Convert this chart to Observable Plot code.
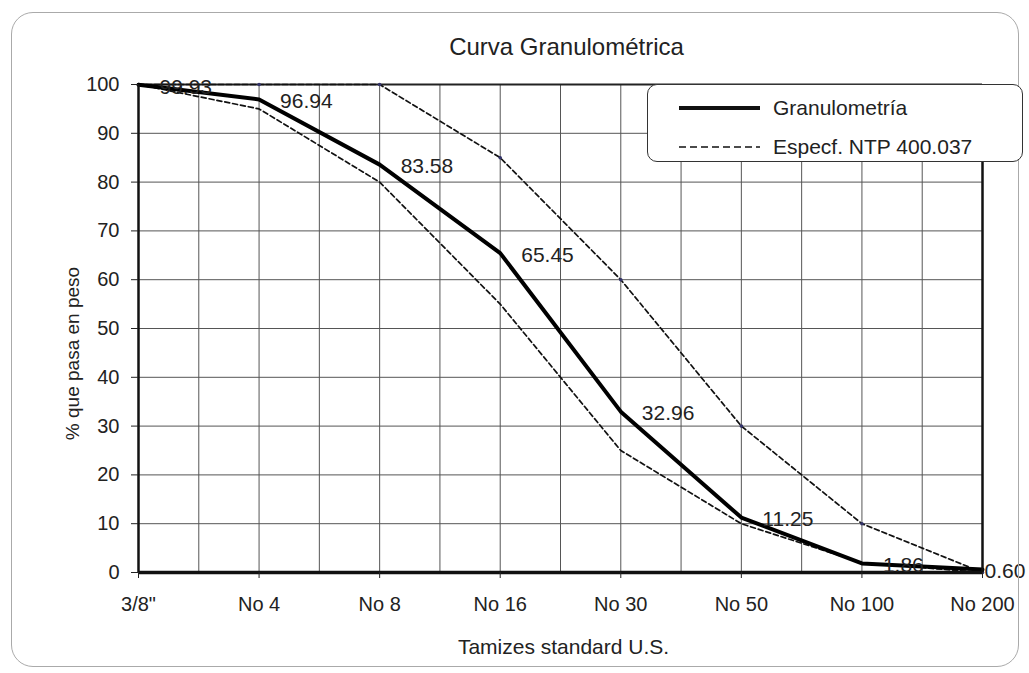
<!DOCTYPE html>
<html>
<head>
<meta charset="utf-8">
<script src="https://cdn.jsdelivr.net/npm/d3@7"></script>
<script src="https://cdn.jsdelivr.net/npm/@observablehq/plot@0.6"></script>
<style>
  html, body { margin: 0; padding: 0; background: #fff; }
  #wrap { position: relative; width: 1029px; height: 673px; overflow: hidden; }
  #frame { position: absolute; left: 11px; top: 12px; width: 1008px; height: 655px;
           border: 1.5px solid #aaa; border-radius: 22px; pointer-events: none; box-sizing: border-box; }
  #legend { position: absolute; left: 647px; top: 84px; width: 376px; height: 78px; box-sizing: border-box;
            border: 1.6px solid #333; border-radius: 10px; background: #fff; }
  #legend svg { position: absolute; left: 0; top: 0; }
</style>
</head>
<body>
<div id="wrap">
  <div id="chart"></div>
  <div id="frame"></div>
  <div id="legend"></div>
</div>
<script>
const categories = ['3/8"', "No 4", "No 8", "No 16", "No 30", "No 50", "No 100", "No 200"];
const granulometria = [99.93, 96.94, 83.58, 65.45, 32.96, 11.25, 1.86, 0.60];
const specLower = [100, 95, 80, 55, 25, 10, 2, 0];
const specUpper = [100, 100, 100, 85, 60, 30, 10, 0];
const yTicks = [0, 10, 20, 30, 40, 50, 60, 70, 80, 90, 100];
const seriesNames = ["Granulometría", "Especf. NTP 400.037"];
const title = "Curva Granulométrica";
const xTitle = "Tamizes standard U.S.";
const yTitle = "% que pasa en peso";

const idx = categories.map((_, i) => i);
const last = categories.length - 1;
const halfSteps = d3.range(0.5, last, 0.5);
const grData = idx.map(i => ({i, v: granulometria[i], label: granulometria[i].toFixed(2)}));
const loData = idx.map(i => ({i, v: specLower[i]}));
const upData = idx.map(i => ({i, v: specUpper[i]}));
const FONT = '"Liberation Sans", Arial, sans-serif';

const chart = Plot.plot({
  width: 1029,
  height: 673,
  marginLeft: 138,
  marginRight: 47,
  marginTop: 84,
  marginBottom: 101,
  style: {fontFamily: FONT, fontSize: "20px", color: "#222", background: "transparent"},
  x: {domain: [0, last], label: null},
  y: {domain: [0, 100], label: null},
  marks: [
    Plot.gridX(halfSteps, {stroke: "#555", strokeOpacity: 1, strokeWidth: 1}),
    Plot.gridY(yTicks, {stroke: "#555", strokeOpacity: 1, strokeWidth: 1}),
    Plot.ruleY([100], {stroke: "#222", strokeWidth: 2}),
    Plot.line(loData, {x: "i", y: "v", stroke: "#111", strokeWidth: 1.7, strokeDasharray: "5,3"}),
    Plot.line(upData, {x: "i", y: "v", stroke: "#111", strokeWidth: 1.7, strokeDasharray: "5,3"}),
    Plot.dot(upData, {x: "i", y: "v", r: 1.8, fill: "#33336a", stroke: null}),
    Plot.line(grData, {x: "i", y: "v", stroke: "#000", strokeWidth: 4}),
    Plot.ruleX([0], {stroke: "#111", strokeWidth: 2.5}),
    Plot.ruleX([last], {stroke: "#111", strokeWidth: 2.5}),
    Plot.ruleY([0], {stroke: "#111", strokeWidth: 3.5}),
    Plot.axisX(idx, {tickFormat: i => categories[i], tickSize: 6, tickPadding: 18, fontSize: 20, stroke: "#222", label: null}),
    Plot.axisY(yTicks, {tickSize: 7, tickPadding: 12, fontSize: 20, stroke: "#222", label: null}),
    Plot.text(grData.slice(0, last), {x: "i", y: "v", text: "label", textAnchor: "start", dx: 21, dy: 2, fontSize: 21, fill: "#222"}),
    Plot.text(grData.slice(last), {x: "i", y: "v", text: "label", textAnchor: "start", dx: 2, dy: 2, fontSize: 21, fill: "#222"}),
    Plot.text([title], {frameAnchor: "top", lineAnchor: "middle", dy: -37, dx: 6, fontSize: 24, fill: "#222"}),
    Plot.text([xTitle], {frameAnchor: "bottom", lineAnchor: "middle", dy: 75, dx: 3, fontSize: 21, fill: "#222"}),
    Plot.text([yTitle], {frameAnchor: "left", textAnchor: "middle", rotate: -90, dx: -66, dy: 25, fontSize: 19, fill: "#222"})
  ]
});
document.getElementById("chart").append(chart);

// Legend
const lg = d3.select("#legend").append("svg").attr("width", 376).attr("height", 78);
const rows = [
  {name: seriesNames[0], dash: null, w: 4, y: 23},
  {name: seriesNames[1], dash: "7,4", w: 1.6, y: 62}
];
rows.forEach(r => {
  lg.append("line").attr("x1", 31).attr("x2", 112).attr("y1", r.y).attr("y2", r.y)
    .attr("stroke", "#111").attr("stroke-width", r.w).attr("stroke-dasharray", r.dash);
  lg.append("text").attr("x", 125).attr("y", r.y).attr("dy", "0.35em")
    .attr("font-family", FONT).attr("font-size", 21).attr("fill", "#222").text(r.name);
});
</script>
</body>
</html>
